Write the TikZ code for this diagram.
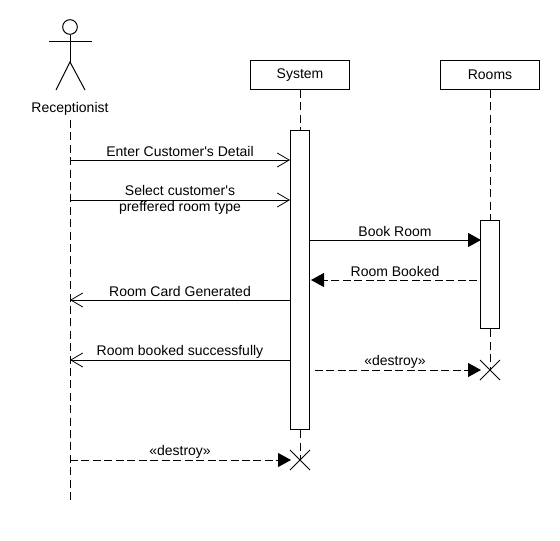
\documentclass[tikz,border=0pt]{standalone}
\usepackage{fontspec}
\setmainfont[Ligatures=TeXOff]{Liberation Sans}
\usetikzlibrary{arrows.meta}
\tikzset{
  px/.style={x=0.75pt,y=-0.75pt},
  obj/.style={draw=black,fill=white,line width=0.75pt,minimum width=74.6pt,minimum height=22pt,inner sep=0pt,font=\fontsize{10.5pt}{12pt}\selectfont},
  activation/.style={draw=black,fill=white,line width=0.75pt,minimum width=14.6pt,inner sep=0pt},
  lifeline/.style={draw=black,line width=0.75pt,dash pattern=on 6pt off 3.3pt},
  actorline/.style={draw=black,line width=0.75pt},
  syncmsg/.style={draw=black,line width=0.75pt,-{Straight Barb[length=9pt,width=10.5pt,line width=0.6pt]}},
  fillmsg/.style={draw=black,line width=0.75pt,-{Triangle[length=9.75pt,width=10.5pt,fill=black]}},
  dashfill/.style={fillmsg,dash pattern=on 6pt off 2.6pt},
  destroyx/.style={draw=black,line width=0.6pt},
  lbl/.style={inner sep=0pt,align=center,font=\fontsize{10.5pt}{12pt}\selectfont}
}
\begin{document}
\begin{tikzpicture}[px]
\useasboundingbox (0,0) rectangle (560,540);
\fill[white] (0,0) rectangle (560,540);
% actor
\node[draw=black,line width=0.75pt,circle,minimum size=11pt,inner sep=0pt] (head) at (70,27) {};
\coordinate (armL) at (49,41);
\coordinate (armR) at (92,41);
\coordinate (hip) at (70,62);
\coordinate (footL) at (56,90);
\coordinate (footR) at (85,90);
\draw[actorline] (head.south) -- (hip);
\draw[actorline] (armL) -- (armR);
\draw[actorline] (footL) -- (hip) -- (footR);
\node[lbl] (rec) at (70,108.5) {Receptionist};
% lifelines
\coordinate (recTop) at (70,120);
\coordinate (recEnd) at (70,500);
\draw[lifeline] (recTop) -- (recEnd);
\node[obj] (sys) at (300,74.8) {System};
\node[obj] (rooms) at (490,74.8) {Rooms};
\node[destroyx,minimum size=0pt,inner sep=0pt] (xsys) at (300,460) {};
\node[destroyx,minimum size=0pt,inner sep=0pt] (xrooms) at (490,370) {};
\node[activation,minimum height=224.4pt] (asys) at (300,280) {};
\node[activation,minimum height=81.5pt] (arooms) at (490,274.6) {};
\draw[lifeline] (sys.south) -- (asys.north);
\draw[lifeline] (asys.south) -- (xsys);
\draw[lifeline] (rooms.south) -- (arooms.north);
\draw[lifeline] (arooms.south) -- (xrooms);
\foreach \n in {xsys,xrooms}{
  \draw[destroyx] ([shift={(-10,-10)}]\n.center) -- ([shift={(10,10)}]\n.center);
  \draw[destroyx] ([shift={(-10,10)}]\n.center) -- ([shift={(10,-10)}]\n.center);
}
% messages
\coordinate (m1a) at (70,160); \coordinate (m1b) at (290,160);
\coordinate (m2a) at (70,200); \coordinate (m2b) at (290,200);
\coordinate (m3a) at (310,240); \coordinate (m3b) at (481,240);
\coordinate (m4a) at (477,280); \coordinate (m4b) at (311,280);
\coordinate (m5a) at (290,300); \coordinate (m5b) at (70,300);
\coordinate (m6a) at (290,360); \coordinate (m6b) at (70,360);
\coordinate (m7a) at (315,370); \coordinate (m7b) at (481,370);
\coordinate (m8a) at (70,460); \coordinate (m8b) at (291,460);
\draw[syncmsg] (m1a) -- (m1b);
\draw[syncmsg] (m2a) -- (m2b);
\draw[fillmsg] (m3a) -- (m3b);
\draw[dashfill] (m4a) -- (m4b);
\draw[syncmsg] (m5a) -- (m5b);
\draw[syncmsg] (m6a) -- (m6b);
\draw[dashfill] (m7a) -- (m7b);
\draw[dashfill] (m8a) -- (m8b);
\node[lbl] (l1) at (180,151.5) {Enter Customer's Detail};
\node[lbl] (l2) at (180,199.5) {Select customer's\\preffered room type};
\node[lbl] (l3) at (395,231.5) {Book Room};
\node[lbl] (l4) at (395,271.5) {Room Booked};
\node[lbl] (l5) at (180,291.5) {Room Card Generated};
\node[lbl] (l6) at (180,351.5) {Room booked successfully};
\node[lbl] (l7) at (395,361.5) {«destroy»};
\node[lbl] (l8) at (180,451.5) {«destroy»};
\end{tikzpicture}
\end{document}
